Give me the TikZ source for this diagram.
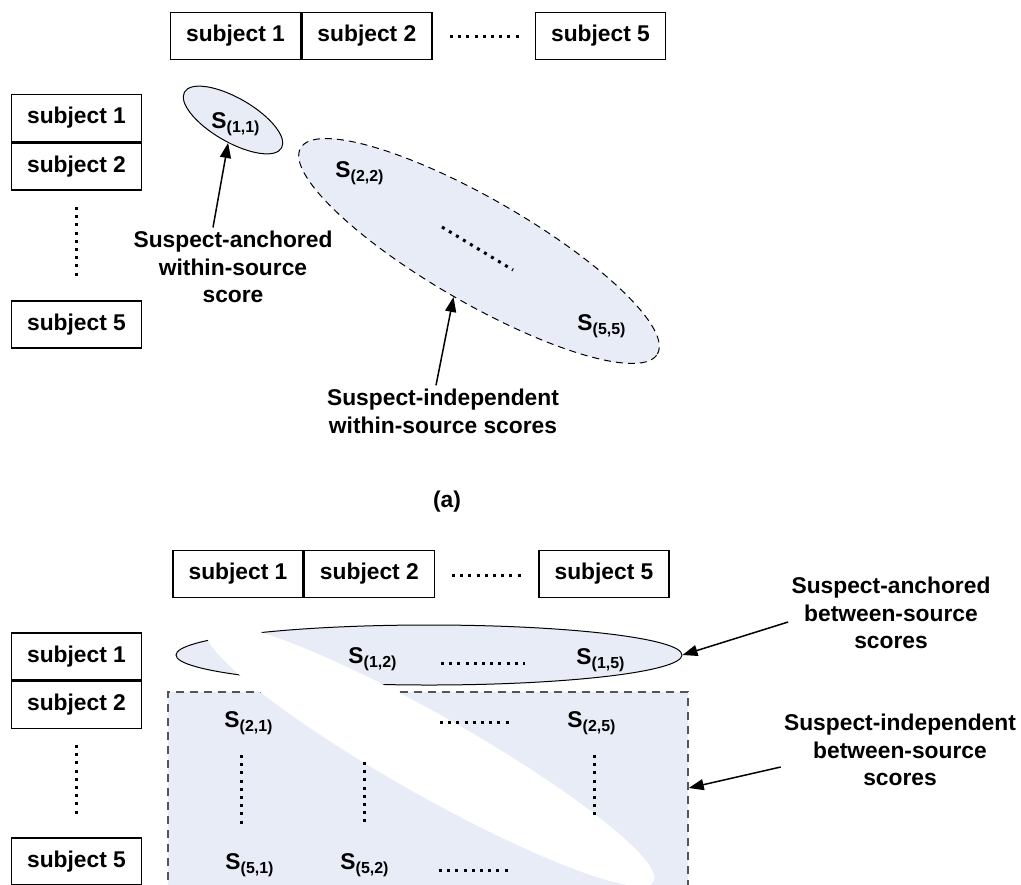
\documentclass[tikz,border=0pt]{standalone}
\usepackage{fontspec}
\setmainfont{Liberation Sans}
\usetikzlibrary{shapes.geometric,arrows.meta,positioning}
\definecolor{scorefill}{RGB}{231,236,247}
\definecolor{rimgray}{RGB}{85,85,85}
\newcommand{\lblfont}{\fontsize{11.4}{13.9}\selectfont\bfseries}
\tikzset{
  subj/.style={draw, line width=0.7pt, minimum width=65pt, minimum height=23.5pt, inner sep=0pt, font=\lblfont},
  note/.style={align=center, inner sep=1.5pt, font=\lblfont},
  score/.style={inner sep=0pt, font=\lblfont},
  ell/.style={ellipse, inner sep=0pt, fill=scorefill},
  dotrow/.style={line width=1.5pt, dash pattern=on 1.5pt off 2.6pt},
  pointer/.style={line width=0.75pt, -{Triangle[length=7.5pt,width=5.5pt]}}
}
\begin{document}
\begin{tikzpicture}[x=0.5pt,y=-0.5pt]
  \useasboundingbox (0,0) rectangle (1021,884);
  % (a) within-source
  \node[subj] (ta1) at (235.5,36) {subject 1};
  \node[subj, right=0pt of ta1] (ta2) {subject 2};
  \node[subj] (ta5) at (600.5,36) {subject 5};
  \draw[dotrow] (450,36) -- (522,36);
  \node[subj] (la1) at (76.5,118) {subject 1};
  \node[subj, below=0pt of la1] (la2) {subject 2};
  \node[subj] (la5) at (76.5,324.5) {subject 5};
  \draw[dotrow] (76.5,207) -- (76.5,277);
  \node[ell, draw, line width=0.5pt, minimum width=56pt, minimum height=22pt, rotate=-30] (ellS) at (233,120) {};
  \node[ell, draw, dashed, dash pattern=on 3.5pt off 2.5pt, line width=0.5pt, minimum width=206pt, minimum height=52pt, rotate=-30] (ellW) at (479,251) {};
  \node[score] (s11) at (236,124) {S\textsubscript{(1,1)}};
  \node[score] (s22) at (360,173) {S\textsubscript{(2,2)}};
  \node[score] (s55) at (602,326) {S\textsubscript{(5,5)}};
  \draw[dotrow] (442,227) -- (513,270);
  \node[note] (ancW) at (233,267) {Suspect-anchored\\within-source\\score};
  \node[note] (indW) at (443,411) {Suspect-independent\\within-source scores};
  \draw[pointer] ([xshift=-10pt]ancW.north) -- (ellS.288);
  \draw[pointer] ([xshift=-3.5pt]indW.north) -- (ellW.271);
  \node[note] (capA) at (447,502) {(a)};
  % (b) between-source
  \node[subj] (tb1) at (238,574) {subject 1};
  \node[subj, right=0pt of tb1] (tb2) {subject 2};
  \node[subj] (tb5) at (604,574) {subject 5};
  \draw[dotrow] (452,575) -- (525,575);
  \node[subj] (lb1) at (76.5,656.5) {subject 1};
  \node[subj, below=0pt of lb1] (lb2) {subject 2};
  \node[subj] (lb5) at (76.5,861.5) {subject 5};
  \draw[dotrow] (76.5,745) -- (76.5,815);
  \node[draw=rimgray, fill=scorefill, dashed, dash pattern=on 4pt off 3pt, line width=0.75pt, minimum width=260pt, minimum height=104pt, inner sep=0pt] (rectB) at (428,796) {};
  \node[ell, draw, line width=0.5pt, minimum width=253pt, minimum height=30pt] (ellB) at (429,655) {};
  \node[ell, fill=white, minimum width=257pt, minimum height=40pt, rotate=-29.5] (gap) at (430,755) {};
  \node[score] (s12) at (373,659) {S\textsubscript{(1,2)}};
  \node[score] (s15) at (601,660) {S\textsubscript{(1,5)}};
  \node[score] (s21) at (249,723) {S\textsubscript{(2,1)}};
  \node[score] (s25) at (592,723) {S\textsubscript{(2,5)}};
  \node[score] (s51) at (250,865) {S\textsubscript{(5,1)}};
  \node[score] (s52) at (365,865) {S\textsubscript{(5,2)}};
  \draw[dotrow] (441,663) -- (525,663);
  \draw[dotrow] (440,722) -- (512,722);
  \draw[dotrow] (439,870) -- (509,870);
  \draw[dotrow] (241,755) -- (241,825);
  \draw[dotrow] (364,762) -- (364,825);
  \draw[dotrow] (594,755) -- (594,817);
  \node[note] (ancB) at (891,613) {Suspect-anchored\\between-source\\scores};
  \node[note] (indB) at (900,750) {Suspect-independent\\between-source\\scores};
  \draw[pointer] ([yshift=-4.5pt]ancB.west) -- (ellB.east);
  \draw[pointer] ([yshift=-8.5pt]indB.west) -- ([yshift=4pt]rectB.east);
\end{tikzpicture}
\end{document}
